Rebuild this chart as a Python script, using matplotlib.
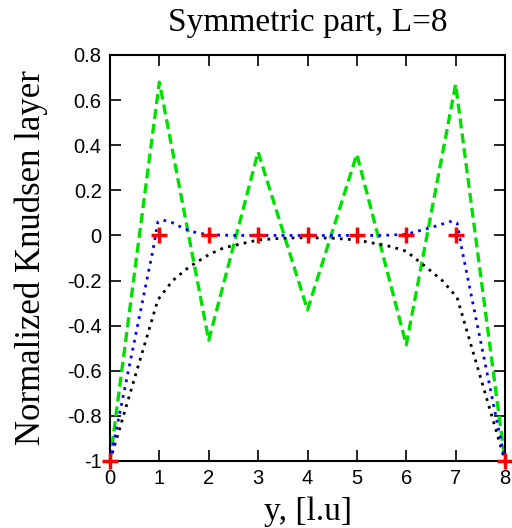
import matplotlib
matplotlib.use("Agg")
import matplotlib.pyplot as plt
import numpy as np

# lattice nodes (coarse) and values
y_nodes = [0, 1, 2, 3, 4, 5, 6, 7, 8]
green_vals = [-1.0, 0.68, -0.465, 0.37, -0.33, 0.36, -0.485, 0.67, -1.0]
red_vals = [-1.0, 0.0, 0.0, 0.0, 0.0, 0.0, 0.0, 0.0, -1.0]

# finer curves
blue_y = [0, 0.87, 0.97, 1.07, 1.25, 1.5, 1.75, 2.0, 2.5, 3.0, 3.5, 4.0,
          4.5, 5.0, 5.5, 6.0, 6.25, 6.5, 6.75, 6.93, 7.03, 7.13, 8]
blue_vals = [-1.0, -0.065, 0.06, 0.068, 0.058, 0.03, 0.012, 0.003, 0.0, 0.0, 0.0, 0.0,
             0.0, 0.0, 0.0, 0.005, 0.02, 0.035, 0.052, 0.064, 0.055, -0.065, -1.0]

black_y = [0, 0.97, 1.27, 1.6, 2.0, 2.3, 3.0, 3.5, 4.0, 4.5, 5.0, 5.7, 6.0, 6.4, 6.73, 7.03, 8]
black_vals = [-1.0, -0.285, -0.2, -0.14, -0.085, -0.055, -0.02, -0.012, -0.01, -0.012, -0.02,
              -0.05, -0.07, -0.14, -0.2, -0.275, -1.0]

yticks = [-1, -0.8, -0.6, -0.4, -0.2, 0, 0.2, 0.4, 0.6, 0.8]
ytick_labels = ["-1", "-0.8", "-0.6", "-0.4", "-0.2", "0", "0.2", "0.4", "0.6", "0.8"]

serif = ["Liberation Serif", "DejaVu Serif"]
sans = ["Liberation Sans", "DejaVu Sans"]

fig = plt.figure(figsize=(5.12, 5.28), dpi=100)
ax = fig.add_axes([110 / 512, 67 / 528, 395 / 512, 406 / 528])

ax.plot(y_nodes, green_vals, color="#00e000", lw=2.4, linestyle=(0, (3.0, 1.5)), zorder=2)
ax.plot(black_y, black_vals, color="black", lw=2.0, linestyle=(0, (1, 1.9)), zorder=3)
ax.plot(blue_y, blue_vals, color="#0000ff", lw=2.0, linestyle=(0, (1, 1.9)), zorder=4)
ax.plot(y_nodes, red_vals, linestyle="none", marker="+", color="red",
        markersize=11, mew=2.5, zorder=5, clip_on=False)

ax.set_xlim(0, 8)
ax.set_ylim(-1, 0.8)
ax.set_xticks(y_nodes)
ax.set_xticklabels([str(v) for v in y_nodes])
ax.set_yticks(yticks)
ax.set_yticklabels(ytick_labels)
ax.tick_params(direction="in", length=8, width=1.2, top=True, right=True,
               labelsize=14.5, pad=6)
for lab in ax.get_xticklabels() + ax.get_yticklabels():
    lab.set_family(sans)
for s in ax.spines.values():
    s.set_linewidth(1.5)

ax.set_title("Symmetric part, L=8", family=serif, fontsize=24, pad=17)
ax.set_xlabel("y, [l.u]", family=serif, fontsize=24, labelpad=6)
ax.set_ylabel("Normalized Knudsen layer", family=serif, fontsize=25, labelpad=14)

fig.savefig("out.png", dpi=100)
